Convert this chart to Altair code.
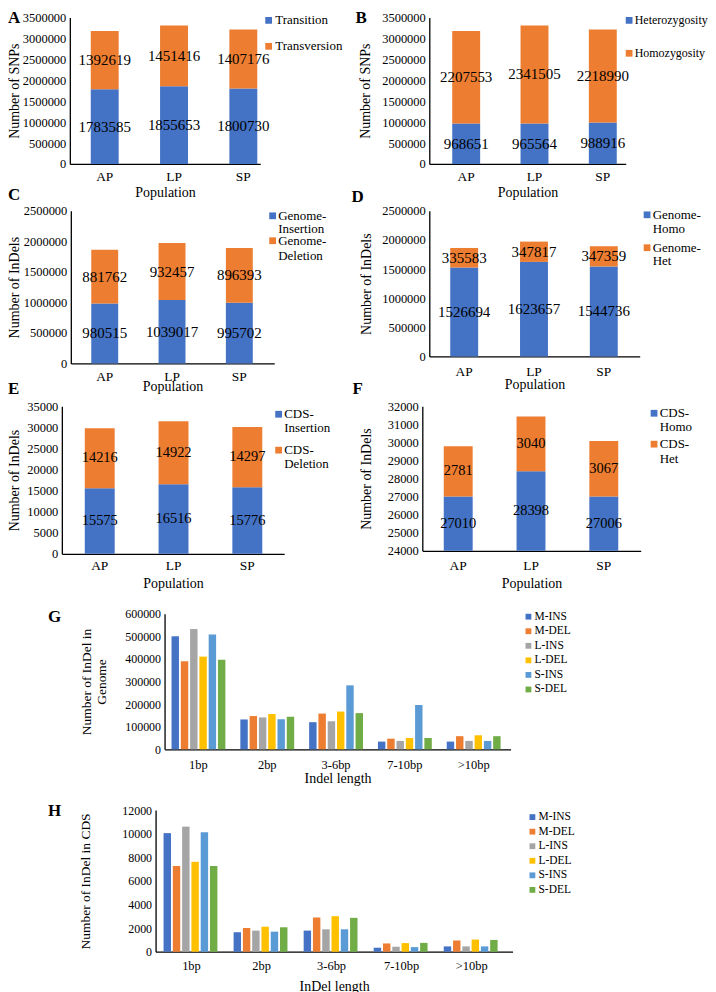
import altair as alt
import pandas as pd

FONT = "Liberation Serif"
BLUE, ORANGE, GRAY, YELLOW, LBLUE, GREEN = "#4472C4", "#ED7D31", "#A5A5A5", "#FFC000", "#5B9BD5", "#70AD47"

# ------------------------------------------------------------------ data
populations = ["AP", "LP", "SP"]
transition = [1783585, 1855653, 1800730]
transversion = [1392619, 1451416, 1407176]
heterozygosity = [968651, 965564, 988916]
homozygosity = [2207553, 2341505, 2218990]
genome_insertion = [980515, 1039017, 995702]
genome_deletion = [881762, 932457, 896393]
genome_homo = [1526694, 1623657, 1544736]
genome_het = [335583, 347817, 347359]
cds_insertion = [15575, 16516, 15776]
cds_deletion = [14216, 14922, 14297]
cds_homo = [27010, 28398, 27006]
cds_het = [2781, 3040, 3067]

indel_lengths = ["1bp", "2bp", "3-6bp", "7-10bp", ">10bp"]
indel_groups = ["M-INS", "M-DEL", "L-INS", "L-DEL", "S-INS", "S-DEL"]
group_colors = [BLUE, ORANGE, GRAY, YELLOW, LBLUE, GREEN]

genome_m_ins = [500000, 132000, 120000, 34000, 34000]
genome_m_del = [390000, 147000, 158000, 47000, 58000]
genome_l_ins = [532000, 141000, 124000, 37000, 37000]
genome_l_del = [410000, 156000, 167000, 50000, 62000]
genome_s_ins = [508000, 133000, 283000, 196000, 37000]
genome_s_del = [396000, 144000, 160000, 50000, 58000]

cds_m_ins = [10050, 1650, 1790, 340, 450]
cds_m_del = [7260, 2010, 2900, 700, 950]
cds_l_ins = [10600, 1790, 1900, 420, 450]
cds_l_del = [7620, 2120, 3010, 730, 1030]
cds_s_ins = [10130, 1700, 1900, 390, 450]
cds_s_del = [7260, 2070, 2870, 750, 1000]

panel_letters = ["A", "B", "C", "D", "E", "F", "G", "H"]

ONE = pd.DataFrame({"k": [0]})


# ------------------------------------------------------------------ helpers
def band_params(W, centers, bw):
    n = len(centers)
    step = (centers[-1] - centers[0]) / (n - 1)
    pi = 1 - bw / step
    L = centers[0] - bw / 2
    R = W - (centers[-1] + bw / 2)
    po = max(0.0, (L + R) / (2 * step))
    al = min(1.0, max(0.0, L / (L + R))) if (L + R) > 0 else 0.5
    return pi, po, al


def y_axis(title, values, shift, title_x, label_size=12.5, title_size=14, line_height=None):
    kw = dict(title=title, values=values, format="d", offset=-shift, ticks=False, grid=False,
              domainColor="black", domainWidth=1.3, labelFont=FONT, labelFontSize=label_size,
              labelColor="black", labelPadding=4, titleFont=FONT, titleFontSize=title_size,
              titleFontWeight="normal", titleColor="black", titleX=title_x,
              titleBaseline="middle", titleAngle=270)
    if line_height:
        kw["titleLineHeight"] = line_height
    return alt.Axis(**kw)


def x_axis(title, label_pad, title_pad, label_size=13.5, title_size=14):
    return alt.Axis(title=title, labelAngle=0, ticks=False, grid=False, domainColor="black",
                    domainWidth=1.3, labelFont=FONT, labelFontSize=label_size, labelColor="black",
                    labelPadding=label_pad, titleFont=FONT, titleFontSize=title_size,
                    titleFontWeight="normal", titleColor="black", titlePadding=title_pad)


def letter_mark(letter, lx, ly):
    return alt.Chart(ONE).mark_text(
        text=letter, font=FONT, fontSize=17, fontWeight="bold", align="left",
        baseline="middle", color="black").encode(x=alt.value(lx), y=alt.value(ly))


def legend_marks(names, colors, sym_x, text_x, line_ys, font_size, two_line, sym_size=46):
    """Excel-like legend: square swatch + (possibly two-line) label per series."""
    layers = []
    half = sym_size ** 0.5 / 2
    for name, color, ys in zip(names, colors, line_ys):
        if two_line:
            cut = name.index("-") + 1
            lines = [name[:cut], name[cut:]]
        else:
            lines = [name]
        layers.append(alt.Chart(ONE).mark_square(size=sym_size, color=color, opacity=1).encode(
            x=alt.value(sym_x + half), y=alt.value(ys[0])))
        for txt, y in zip(lines, ys):
            layers.append(alt.Chart(ONE).mark_text(
                text=txt, align="left", baseline="middle", font=FONT, fontSize=font_size,
                color="black").encode(x=alt.value(text_x), y=alt.value(y)))
    return layers


def stacked_panel(c):
    n1, n2 = c["names"]
    df = pd.DataFrame({
        "pop": populations * 2,
        "series": [n1] * 3 + [n2] * 3,
        "order": [0] * 3 + [1] * 3,
        "value": list(c["s1"]) + list(c["s2"]),
    })
    shift, W, H = c["shift"], c["W"], c["H"]
    pi, po, al = band_params(W, c["centers"], c["bw"])
    ymin, ymax, ystep = c["ydom"]
    ticks = list(range(ymin, ymax + 1, ystep))
    xs = alt.Scale(domain=populations, range=[shift, shift + W], paddingInner=pi,
                   paddingOuter=po, align=al)
    ys = alt.Scale(domain=[ymin, ymax], nice=False, zero=False)
    yax = y_axis(c["ytitle"], ticks, shift, c["ytitle_x"] - shift)
    xax = x_axis("Population", c["xlab_pad"], c["xtitle_pad"])
    base = (alt.Chart(df)
            .transform_stack(stack="value", as_=["y0", "y1"], groupby=["pop"],
                             sort=[alt.SortField("order", order="ascending")])
            .transform_calculate(y0c=f"max(datum.y0, {ymin})",
                                 mid=f"(max(datum.y0, {ymin}) + datum.y1) / 2"))
    bars = base.mark_bar().encode(
        x=alt.X("pop:N", scale=xs, axis=xax),
        y=alt.Y("y0c:Q", scale=ys, axis=yax),
        y2="y1:Q",
        color=alt.Color("series:N", scale=alt.Scale(domain=[n1, n2], range=[BLUE, ORANGE]),
                        legend=None),
    )
    labels = base.mark_text(font=FONT, fontSize=c.get("val_font", 15), color="black").encode(
        x=alt.X("pop:N", scale=xs, axis=xax),
        y=alt.Y("mid:Q", scale=ys, axis=yax),
        text=alt.Text("value:Q", format="d"),
    )
    leg = legend_marks([n1, n2], [BLUE, ORANGE], c["sym_x"], c["text_x"], c["line_ys"],
                       c.get("leg_font", 13), c["two_line"])
    return alt.layer(bars, labels, letter_mark(c["letter"], c["let_x"], c["let_y"]), *leg
                     ).properties(width=shift + W, height=H)


def grouped_panel(c):
    rows = []
    for g, vals in zip(indel_groups, c["series"]):
        for l, v in zip(indel_lengths, vals):
            rows.append({"length": l, "group": g, "value": v})
    df = pd.DataFrame(rows)
    shift, W, H = c["shift"], c["W"], c["H"]
    pi, po, al = band_params(W, c["centers"], c["bw"])
    ymin, ymax, ystep = c["ydom"]
    ticks = list(range(ymin, ymax + 1, ystep))
    xs = alt.Scale(domain=indel_lengths, range=[shift, shift + W], paddingInner=pi,
                   paddingOuter=po, align=al)
    ys = alt.Scale(domain=[ymin, ymax], nice=False)
    yax = y_axis(c["ytitle"], ticks, shift, c["ytitle_x"] - shift, label_size=12,
                 title_size=13.5, line_height=15)
    xax = x_axis(c["xtitle"], c["xlab_pad"], c["xtitle_pad"], label_size=12.5, title_size=14)
    bars = alt.Chart(df).mark_bar().encode(
        x=alt.X("length:N", scale=xs, axis=xax),
        xOffset=alt.XOffset("group:N", scale=alt.Scale(domain=indel_groups, paddingInner=0.2,
                                                       paddingOuter=0)),
        y=alt.Y("value:Q", scale=ys, axis=yax),
        color=alt.Color("group:N", scale=alt.Scale(domain=indel_groups, range=group_colors),
                        legend=None),
    )
    y0, pitch = c["leg_y0"], c["leg_pitch"]
    line_ys = [[y0 + i * pitch] for i in range(len(indel_groups))]
    leg = legend_marks(indel_groups, group_colors, c["sym_x"], c["text_x"], line_ys, 11.5,
                       False, sym_size=34)
    return alt.layer(bars, letter_mark(c["letter"], c["let_x"], c["let_y"]), *leg).properties(
        width=shift + W, height=H)


# ------------------------------------------------------------------ panels
A = stacked_panel(dict(letter=panel_letters[0], let_x=-54, let_y=1, names=("Transition", "Transversion"),
                       s1=transition, s2=transversion, ytitle="Number of SNPs",
                       ydom=(0, 3500000, 500000), shift=8, W=191, H=147,
                       centers=[35, 105, 174], bw=28, ytitle_x=-47, xlab_pad=6, xtitle_pad=2,
                       sym_x=204, text_x=214, line_ys=[[3], [29]], two_line=False))
B = stacked_panel(dict(letter=panel_letters[1], let_x=-67, let_y=1, names=("Heterozygosity", "Homozygosity"),
                       s1=heterozygosity, s2=homozygosity, ytitle="Number of SNPs",
                       ydom=(0, 3500000, 500000), shift=7, W=197, H=147,
                       centers=[37, 105, 174], bw=28, ytitle_x=-57, xlab_pad=6, xtitle_pad=2,
                       sym_x=204, text_x=213, line_ys=[[3], [36]], leg_font=12, two_line=False))
C = stacked_panel(dict(letter=panel_letters[2], let_x=-54, let_y=-16, names=("Genome-Insertion", "Genome-Deletion"),
                       s1=genome_insertion, s2=genome_deletion, ytitle="Number of InDels",
                       ydom=(0, 2500000, 500000), shift=9, W=204, H=153,
                       centers=[34, 102, 169], bw=27, ytitle_x=-47, xlab_pad=6.5, xtitle_pad=-3.5,
                       sym_x=208, text_x=217, line_ys=[[5, 18], [30, 45]], two_line=True))
D = stacked_panel(dict(letter=panel_letters[3], let_x=-71, let_y=-14, names=("Genome-Homo", "Genome-Het"),
                       s1=genome_homo, s2=genome_het, ytitle="Number of InDels",
                       ydom=(0, 2500000, 500000), shift=7, W=211, H=146,
                       centers=[35, 105, 175], bw=28, ytitle_x=-56, xlab_pad=8, xtitle_pad=0,
                       sym_x=222, text_x=231, line_ys=[[4, 18], [37, 50]], two_line=True))
E = stacked_panel(dict(letter=panel_letters[4], let_x=-54, let_y=-17, names=("CDS-Insertion", "CDS-Deletion"),
                       s1=cds_insertion, s2=cds_deletion, ytitle="Number of InDels",
                       ydom=(0, 35000, 5000), shift=0, W=223, H=148,
                       centers=[38, 112, 186], bw=30, ytitle_x=-47, xlab_pad=5, xtitle_pad=4.5,
                       sym_x=214, text_x=223, line_ys=[[8, 22], [44, 58]], two_line=True,
                       val_font=14.5))
F = stacked_panel(dict(letter=panel_letters[5], let_x=-70, let_y=-17, names=("CDS-Homo", "CDS-Het"),
                       s1=cds_homo, s2=cds_het, ytitle="Number of InDels",
                       ydom=(24000, 32000, 1000), shift=0, W=219, H=145,
                       centers=[36, 109, 182], bw=29, ytitle_x=-56, xlab_pad=8, xtitle_pad=4.5,
                       sym_x=229, text_x=238, line_ys=[[7, 21], [38, 53]], two_line=True,
                       val_font=14.5))

G = grouped_panel(dict(letter=panel_letters[6], let_x=-14, let_y=3,
                       series=[genome_m_ins, genome_m_del, genome_l_ins, genome_l_del,
                               genome_s_ins, genome_s_del],
                       ytitle=["Number of InDel in", "Genome"], xtitle="Indel length",
                       ydom=(0, 600000, 100000), shift=103, W=347, H=136,
                       centers=[34, 102, 173, 244, 310], bw=54, ytitle_x=-78.5 + 103,
                       xlab_pad=9.5, xtitle_pad=0, sym_x=465, text_x=474,
                       leg_y0=3, leg_pitch=14.6))
H = grouped_panel(dict(letter=panel_letters[7], let_x=-14, let_y=1,
                       series=[cds_m_ins, cds_m_del, cds_l_ins, cds_l_del, cds_s_ins, cds_s_del],
                       ytitle="Number of InDel in CDS", xtitle="InDel length",
                       ydom=(0, 12000, 2000), shift=94, W=358, H=142,
                       centers=[36, 107, 178, 248, 317], bw=56, ytitle_x=-70 + 94,
                       xlab_pad=8, xtitle_pad=7, sym_x=469, text_x=478,
                       leg_y0=7, leg_pitch=14.6))

grid = alt.concat(A, B, C, D, E, F, columns=2, align="each",
                  spacing={"row": -14, "column": 8.5}).resolve_scale(
    color="independent", x="independent", y="independent")

chart = (alt.vconcat(grid, G, H, spacing=17)
         .resolve_scale(color="independent", x="independent", y="independent")
         .properties(padding=0)
         .configure_view(strokeWidth=0, stroke=None))

chart.save("out.html", embed_options={"renderer": "svg", "actions": False})
